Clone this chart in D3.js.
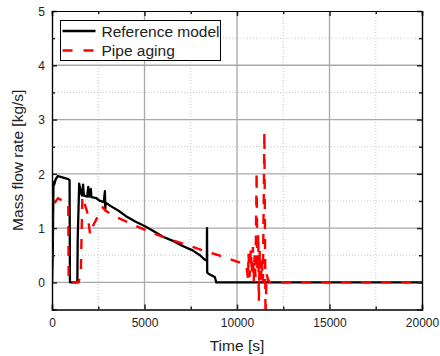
<!DOCTYPE html>
<html>
<head>
<meta charset="utf-8">
<script src="https://cdn.jsdelivr.net/npm/d3@7"></script>
<style>
  body { margin: 0; background: #fff; }
  svg { display: block; font-family: "Liberation Sans", Arial, sans-serif; }
</style>
</head>
<body>
<div id="chart"></div>
<script>
// Reference model (black)
const refTime = [0, 40, 80, 120, 200, 320, 600, 900, 950, 970, 1370, 1390, 1470, 1560, 1620, 1680, 1720, 1900, 1960, 2000, 2100, 2130, 2400, 2600, 2800, 2860, 2880, 2900, 3200, 3600, 4000, 4500, 5000, 5500, 6000, 6500, 7000, 7600, 8000, 8250, 8370, 8380, 8390, 8500, 8800, 8880, 20000];
const refFlow = [0, 0.5, 1.85, 1.8, 1.9, 1.96, 1.93, 1.9, 1.88, 0, 0, 0.8, 1.82, 1.65, 1.6, 1.8, 1.6, 1.58, 1.76, 1.58, 1.72, 1.57, 1.55, 1.5, 1.48, 1.68, 1.35, 1.47, 1.4, 1.32, 1.22, 1.12, 1.04, 0.94, 0.84, 0.77, 0.68, 0.59, 0.5, 0.42, 0.4, 1.0, 0.18, 0.15, 0.1, 0, 0];

// Pipe aging (red dashed)
const agingTime = [0, 10, 320, 880, 900, 1440, 1560, 1640, 1900, 2060, 2200, 2600, 2750, 2900, 3500, 4400, 5000, 5500, 6000, 6400, 7300, 8300, 9000, 9600, 10200, 10500, 10600, 10620, 10680, 10750, 10800, 10860, 10900, 10950, 11000, 11060, 11100, 11150, 11180, 11230, 11280, 11350, 11400, 11480, 11540, 11600, 11700, 11800, 20000];
const agingFlow = [0, 1.4, 1.55, 1.45, 0, 0, 0.2, 1.58, 1.3, 0.88, 1.03, 1.3, 1.38, 1.32, 1.2, 1.06, 0.97, 0.9, 0.84, 0.79, 0.69, 0.57, 0.5, 0.43, 0.36, 0.33, 0.05, 0.55, 0.1, 0.62, 0.15, 0.65, 0.0, 0.5, 0.1, 2.04, 0.2, 0.9, -0.35, 0.6, 0.05, 0.4, 0.0, 2.78, -0.63, 0.15, 0.03, 0, 0];

const xTicks = [0, 5000, 10000, 15000, 20000];
const xMinorTicks = [2500, 7500, 12500, 17500];
const yTicks = [0, 1, 2, 3, 4, 5];
const yMinorTicks = [-0.5, 0.5, 1.5, 2.5, 3.5, 4.5];

const seriesNames = ['Reference model', 'Pipe aging'];

const width = 440, height = 356;
const margin = { top: 11, right: 18, bottom: 46.5, left: 52 };
const innerW = width - margin.left - margin.right;
const innerH = height - margin.top - margin.bottom;

const svg = d3.select('#chart').append('svg')
    .attr('width', width)
    .attr('height', height);

const g = svg.append('g')
    .attr('transform', `translate(${margin.left},${margin.top})`);

const x = d3.scaleLinear().domain([0, 20000]).range([0, innerW]);
const y = d3.scaleLinear().domain([-0.5, 5]).range([innerH, 0]);

// minor grid (dotted)
g.selectAll('line.xminor').data(xMinorTicks).enter().append('line')
    .attr('x1', d => x(d)).attr('x2', d => x(d))
    .attr('y1', 0).attr('y2', innerH)
    .attr('stroke', '#c8c8c8').attr('stroke-width', 1)
    .attr('stroke-dasharray', '1,2');
g.selectAll('line.yminor').data(yMinorTicks.filter(d => d > -0.5)).enter().append('line')
    .attr('x1', 0).attr('x2', innerW)
    .attr('y1', d => y(d)).attr('y2', d => y(d))
    .attr('stroke', '#c8c8c8').attr('stroke-width', 1)
    .attr('stroke-dasharray', '1,2');

// major grid
g.selectAll('line.xmajor').data(xTicks.slice(1, -1)).enter().append('line')
    .attr('x1', d => x(d)).attr('x2', d => x(d))
    .attr('y1', 0).attr('y2', innerH)
    .attr('stroke', '#a8a8a8').attr('stroke-width', 1.3);
g.selectAll('line.ymajor').data(yTicks.slice(0, -1)).enter().append('line')
    .attr('x1', 0).attr('x2', innerW)
    .attr('y1', d => y(d)).attr('y2', d => y(d))
    .attr('stroke', '#a8a8a8').attr('stroke-width', 1.3);

// data
g.append('clipPath').attr('id', 'clip')
    .append('rect').attr('x', 0).attr('y', 0).attr('width', innerW).attr('height', innerH);

const line = d3.line().x(d => x(d[0])).y(d => y(d[1]));

g.append('path')
    .datum(refTime.map((t, i) => [t, refFlow[i]]))
    .attr('clip-path', 'url(#clip)')
    .attr('d', line)
    .attr('fill', 'none')
    .attr('stroke', '#000')
    .attr('stroke-width', 2.3)
    .attr('stroke-linejoin', 'round');

g.append('path')
    .datum(agingTime.map((t, i) => [t, agingFlow[i]]))
    .attr('clip-path', 'url(#clip)')
    .attr('d', line)
    .attr('fill', 'none')
    .attr('stroke', '#ff0000')
    .attr('stroke-width', 2.4)
    .attr('stroke-dasharray', '10,10');

// axes: ticks inward on all four sides
const fmt = d3.format('d');
const leftAxis = g.append('g').call(d3.axisLeft(y).tickValues(yTicks).tickSize(-5).tickFormat(fmt));
const bottomAxis = g.append('g').attr('transform', `translate(0,${innerH})`)
    .call(d3.axisBottom(x).tickValues(xTicks).tickSize(-5).tickFormat(fmt));
g.append('g').attr('transform', `translate(${innerW},0)`)
    .call(d3.axisRight(y).tickValues(yTicks).tickSize(-5).tickFormat(''));
g.append('g')
    .call(d3.axisTop(x).tickValues(xTicks).tickSize(-5).tickFormat(''));

g.append('g').call(d3.axisLeft(y).tickValues(yMinorTicks).tickSize(-3).tickFormat(''));
g.append('g').attr('transform', `translate(0,${innerH})`)
    .call(d3.axisBottom(x).tickValues(xMinorTicks).tickSize(-3).tickFormat(''));
g.append('g').attr('transform', `translate(${innerW},0)`)
    .call(d3.axisRight(y).tickValues(yMinorTicks).tickSize(-3).tickFormat(''));
g.append('g').call(d3.axisTop(x).tickValues(xMinorTicks).tickSize(-3).tickFormat(''));

g.selectAll('.domain').attr('stroke', '#000').attr('stroke-width', 1.2);
g.selectAll('.tick line').attr('stroke', '#222').attr('stroke-width', 1.5);
g.selectAll('.tick text')
    .attr('font-size', '12px')
    .attr('fill', '#222')
    .style('font-family', '"Liberation Sans", Arial, sans-serif');
leftAxis.selectAll('.tick text').attr('x', -7).attr('dy', '0.35em');
bottomAxis.selectAll('.tick text').attr('y', 9);

// axis titles
svg.append('text')
    .attr('x', margin.left + innerW / 2)
    .attr('y', 351)
    .attr('text-anchor', 'middle')
    .attr('font-size', '15.5px')
    .attr('fill', '#222')
    .text('Time [s]');

svg.append('text')
    .attr('transform', `translate(23,${margin.top + innerH / 2}) rotate(-90)`)
    .attr('text-anchor', 'middle')
    .attr('font-size', '15.5px')
    .attr('fill', '#222')
    .text('Mass flow rate [kg/s]');

// legend
const legend = svg.append('g').attr('transform', 'translate(60.5,20.5)');
legend.append('rect')
    .attr('width', 160).attr('height', 40)
    .attr('fill', '#fff').attr('stroke', '#000').attr('stroke-width', 1);

legend.append('line')
    .attr('x1', 2).attr('x2', 35).attr('y1', 10.5).attr('y2', 10.5)
    .attr('stroke', '#000').attr('stroke-width', 2.3);
legend.append('line')
    .attr('x1', 2).attr('x2', 35).attr('y1', 30).attr('y2', 30)
    .attr('stroke', '#ff0000').attr('stroke-width', 2.4)
    .attr('stroke-dasharray', '10,11');

legend.selectAll('text.lab').data(seriesNames).enter().append('text')
    .attr('class', 'lab')
    .attr('x', 41)
    .attr('y', (d, i) => 16 + i * 19.5)
    .attr('font-size', '15.5px')
    .attr('fill', '#222')
    .text(d => d);
</script>
</body>
</html>
